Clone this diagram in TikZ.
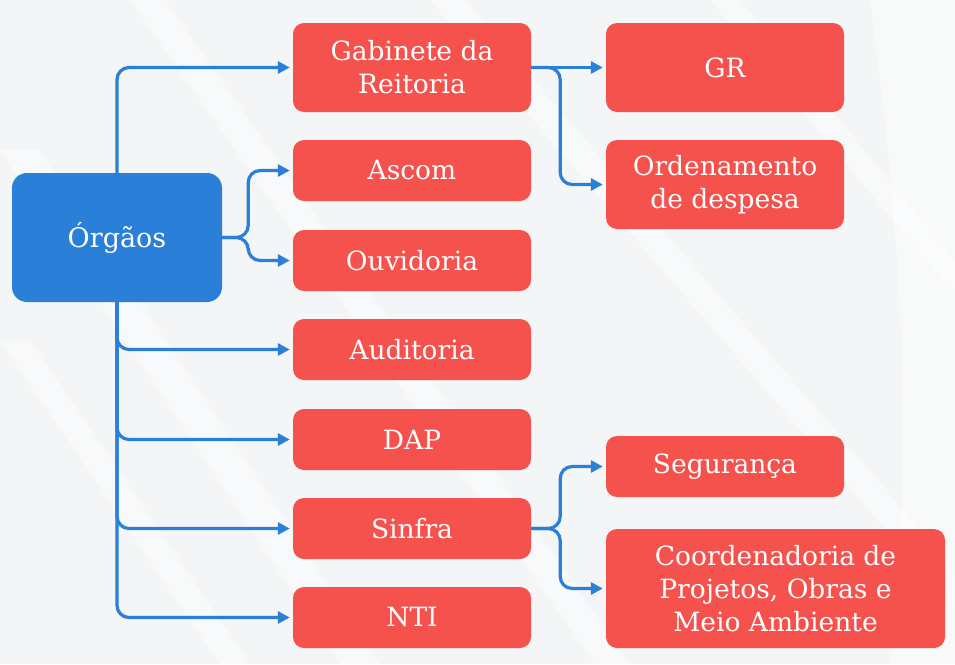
\documentclass[tikz,border=0pt]{standalone}
\usepackage{fontspec}
\setmainfont{DejaVu Serif}
\usetikzlibrary{arrows.meta}
\definecolor{bluebox}{HTML}{2A80D8}
\definecolor{redbox}{HTML}{F5524E}
\definecolor{bgcol}{HTML}{F4F5F6}
\begin{document}
\begin{tikzpicture}[x=1pt,y=-1pt,
  redb/.style={fill=redbox, draw=none, rounded corners=11pt, text=white, align=center,
    font=\fontsize{26.5}{33}\selectfont, inner sep=0pt},
  blueb/.style={fill=bluebox, draw=none, rounded corners=15pt, text=white, align=center,
    font=\fontsize{27}{33}\selectfont, inner sep=0pt},
  conn/.style={draw=bluebox, line width=3.2pt, rounded corners=12pt,
    -{Triangle[length=12pt,width=12pt]}, shorten >=3pt},
  stripe/.style={fill=white, opacity=0.45, draw=none}]
% background
\fill[bgcol] (0,0) rectangle (955,664);
\fill[stripe] (0,150) -- (40,150) -- (380,664) -- (340,664) -- cycle;
\fill[stripe] (130,0) -- (165,0) -- (630,664) -- (595,664) -- cycle;
\fill[stripe] (430,0) -- (465,0) -- (955,570) -- (955,610) -- cycle;
\fill[stripe] (0,340) -- (30,340) -- (250,664) -- (220,664) -- cycle;
\fill[stripe] (710,0) -- (740,0) -- (955,260) -- (955,295) -- cycle;
\fill[white, opacity=0.4] (870,0) .. controls (910,300) and (910,500) .. (890,664) -- (955,664) -- (955,0) -- cycle;
\useasboundingbox (0,0) rectangle (955,664);
% nodes
\node[blueb, minimum width=210pt, minimum height=129pt] (org) at (117,237.5) {Órgãos};
\node[redb, minimum width=238pt, minimum height=89pt] (gab) at (412,67.5) {Gabinete da\\Reitoria};
\node[redb, minimum width=238pt, minimum height=61pt] (ascom) at (412,170.5) {Ascom};
\node[redb, minimum width=238pt, minimum height=61pt] (ouv) at (412,260.5) {Ouvidoria};
\node[redb, minimum width=238pt, minimum height=61pt] (aud) at (412,349.5) {Auditoria};
\node[redb, minimum width=238pt, minimum height=61pt] (dap) at (412,439.5) {DAP};
\node[redb, minimum width=238pt, minimum height=61pt] (sinfra) at (412,528.5) {Sinfra};
\node[redb, minimum width=238pt, minimum height=61pt] (nti) at (412,617.5) {NTI};
\node[redb, minimum width=238pt, minimum height=89pt] (gr) at (725,67.5) {GR};
\node[redb, minimum width=238pt, minimum height=89pt] (ord) at (725,184.5) {Ordenamento\\de despesa};
\node[redb, minimum width=238pt, minimum height=61pt] (seg) at (725,466.5) {Segurança};
\node[redb, minimum width=339pt, minimum height=119pt] (coord) at (775.5,588.5) {Coordenadoria de\\Projetos, Obras e\\Meio Ambiente};
% connectors
\draw[conn] (org.north) |- (gab.west);
\draw[conn] (org.east) -- ++(26,0) |- (ascom.west);
\draw[conn] (org.east) -- ++(26,0) |- (ouv.west);
\draw[conn] (org.south) |- (aud.west);
\draw[conn] (org.south) |- (dap.west);
\draw[conn] (org.south) |- (sinfra.west);
\draw[conn] (org.south) |- (nti.west);
\draw[conn] (gab.east) -- (gr.west);
\draw[conn] (gab.east) -- ++(29,0) |- (ord.west);
\draw[conn] (sinfra.east) -- ++(29,0) |- (seg.west);
\draw[conn] (sinfra.east) -- ++(29,0) |- (coord.west);
\end{tikzpicture}
\end{document}
